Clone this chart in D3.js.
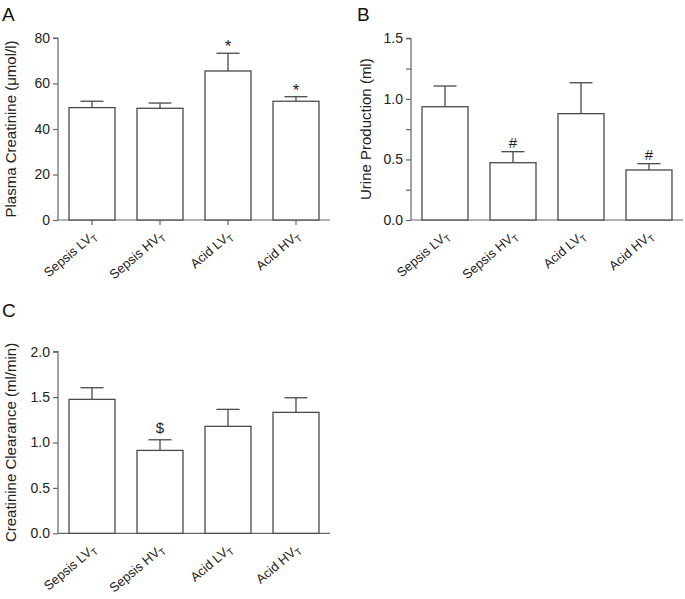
<!DOCTYPE html>
<html>
<head>
<meta charset="utf-8">
<script src="https://cdn.jsdelivr.net/npm/d3@7"></script>
<style>
  body { margin: 0; background: #fff; }
  svg { font-family: "Liberation Sans", Arial, Helvetica, sans-serif; }
  .axis path, .axis line { stroke: #666; stroke-width: 1.2; }
  .axis text { font-size: 14px; fill: #222; }
</style>
</head>
<body>
<div id="chart"></div>
<script>
// Data (mean and SEM, upward error bars only)
var categories = ["Sepsis LV", "Sepsis HV", "Acid LV", "Acid HV"];

var creatinineMean = [49.4, 49.1, 65.5, 52.2];
var creatinineSem = [2.8, 2.3, 7.8, 2.0];
var creatinineMarks = ["", "", "*", "*"];
var creatinineTicks = [0, 20, 40, 60, 80];

var urineMean = [0.935, 0.473, 0.878, 0.413];
var urineSem = [0.171, 0.091, 0.255, 0.052];
var urineMarks = ["", "#", "", "#"];
var urineTicks = [0, 0.25, 0.5, 0.75, 1.0, 1.25, 1.5];

var clearanceMean = [1.475, 0.913, 1.178, 1.332];
var clearanceSem = [0.128, 0.117, 0.187, 0.161];
var clearanceMarks = ["", "$", "", ""];
var clearanceTicks = [0, 0.5, 1.0, 1.5, 2.0];

var svgWidth = 685;
var svgHeight = 599;

var svg = d3.select("#chart")
  .append("svg")
  .attr("width", svgWidth)
  .attr("height", svgHeight);

// vertical shift of each significance glyph so it sits just above the cap
var markShift = {"*": 1, "#": 4, "$": 7};

var panels = [
  {letter: "A", lx: 2, ly: 21, left: 58, right: 330, top: 38, bottom: 220, max: 80,
   mean: creatinineMean, sem: creatinineSem, marks: creatinineMarks, ticks: creatinineTicks,
   fmt: d3.format("d"), labelTicks: creatinineTicks, xTicks: true,
   title: "Plasma Creatinine (\u03bcmol/l)", tx: 16},
  {letter: "B", lx: 357, ly: 21, left: 411, right: 683, top: 38.3, bottom: 220, max: 1.5,
   mean: urineMean, sem: urineSem, marks: urineMarks, ticks: urineTicks,
   fmt: d3.format(".1f"), labelTicks: [0, 0.5, 1.0, 1.5], xTicks: false,
   title: "Urine Production (ml)", tx: 371},
  {letter: "C", lx: 2, ly: 317, left: 58, right: 330, top: 351.7, bottom: 533.3, max: 2.0,
   mean: clearanceMean, sem: clearanceSem, marks: clearanceMarks, ticks: clearanceTicks,
   fmt: d3.format(".1f"), labelTicks: clearanceTicks, xTicks: false,
   title: "Creatinine Clearance (ml/min)", tx: 16}
];

panels.forEach(function(p) {
  var g = svg.append("g");

  var xScale = d3.scaleBand()
    .domain(categories)
    .range([p.left, p.right])
    .paddingInner(0.3235)
    .paddingOuter(0.162);

  var yScale = d3.scaleLinear()
    .domain([0, p.max])
    .range([p.bottom, p.top]);

  // y axis
  var leftAxis = d3.axisLeft(yScale)
    .tickValues(p.ticks)
    .tickSize(5)
    .tickPadding(3)
    .tickFormat(function(d) { return p.labelTicks.indexOf(d) >= 0 ? p.fmt(d) : ""; });

  g.append("g")
    .attr("class", "axis")
    .attr("transform", `translate(${p.left}, 0)`)
    .call(leftAxis)
    .call(a => a.select(".domain").attr("d", `M-5,${p.top}H0V${p.bottom}`));

  // x axis
  var bottomAxis = d3.axisBottom(xScale)
    .tickSize(p.xTicks ? 5 : 0)
    .tickFormat("");

  g.append("g")
    .attr("class", "axis")
    .attr("transform", `translate(0, ${p.bottom})`)
    .call(bottomAxis)
    .call(a => a.select(".domain").attr("d", `M${p.left},0H${p.right}`));

  // bars
  g.selectAll("rect.bar")
    .data(categories)
    .enter()
    .append("rect")
    .attr("class", "bar")
    .attr("x", d => xScale(d))
    .attr("width", xScale.bandwidth())
    .attr("y", (d, i) => yScale(p.mean[i]))
    .attr("height", (d, i) => p.bottom - yScale(p.mean[i]))
    .attr("fill", "#fff")
    .attr("stroke", "#4a4a4a")
    .attr("stroke-width", 1.3);

  // error bars
  var capHalf = 11.5;
  var errs = g.selectAll("g.err")
    .data(categories)
    .enter()
    .append("g")
    .attr("class", "err")
    .attr("stroke", "#4a4a4a")
    .attr("stroke-width", 1.3);

  errs.append("line")
    .attr("x1", d => xScale(d) + xScale.bandwidth() / 2)
    .attr("x2", d => xScale(d) + xScale.bandwidth() / 2)
    .attr("y1", (d, i) => yScale(p.mean[i]))
    .attr("y2", (d, i) => yScale(p.mean[i] + p.sem[i]));

  errs.append("line")
    .attr("x1", d => xScale(d) + xScale.bandwidth() / 2 - capHalf)
    .attr("x2", d => xScale(d) + xScale.bandwidth() / 2 + capHalf)
    .attr("y1", (d, i) => yScale(p.mean[i] + p.sem[i]))
    .attr("y2", (d, i) => yScale(p.mean[i] + p.sem[i]));

  // significance marks
  g.selectAll("text.mark")
    .data(categories)
    .enter()
    .append("text")
    .attr("class", "mark")
    .attr("x", d => xScale(d) + xScale.bandwidth() / 2)
    .attr("y", (d, i) => yScale(p.mean[i] + p.sem[i]) - (markShift[p.marks[i]] || 0))
    .attr("text-anchor", "middle")
    .style("font-size", (d, i) => p.marks[i] === "*" ? "17px" : "15px")
    .attr("fill", "#222")
    .text((d, i) => p.marks[i]);

  // rotated category labels with subscript T
  var labels = g.selectAll("text.cat")
    .data(categories)
    .enter()
    .append("text")
    .attr("class", "cat")
    .attr("transform", d => `translate(${xScale(d) + xScale.bandwidth() / 2 + 5}, ${p.bottom + 17}) rotate(-40)`)
    .attr("text-anchor", "end")
    .style("font-size", "13px")
    .attr("fill", "#222");
  labels.append("tspan").text(d => d);
  labels.append("tspan")
    .attr("dy", 3)
    .style("font-size", "9.5px")
    .text("T");

  // y axis title
  g.append("text")
    .attr("transform", `translate(${p.tx}, ${(p.top + p.bottom) / 2}) rotate(-90)`)
    .attr("text-anchor", "middle")
    .style("font-size", "15px")
    .attr("fill", "#222")
    .text(p.title);

  // panel letter
  g.append("text")
    .attr("x", p.lx)
    .attr("y", p.ly)
    .style("font-size", "19px")
    .attr("fill", "#111")
    .text(p.letter);
});
</script>
</body>
</html>
